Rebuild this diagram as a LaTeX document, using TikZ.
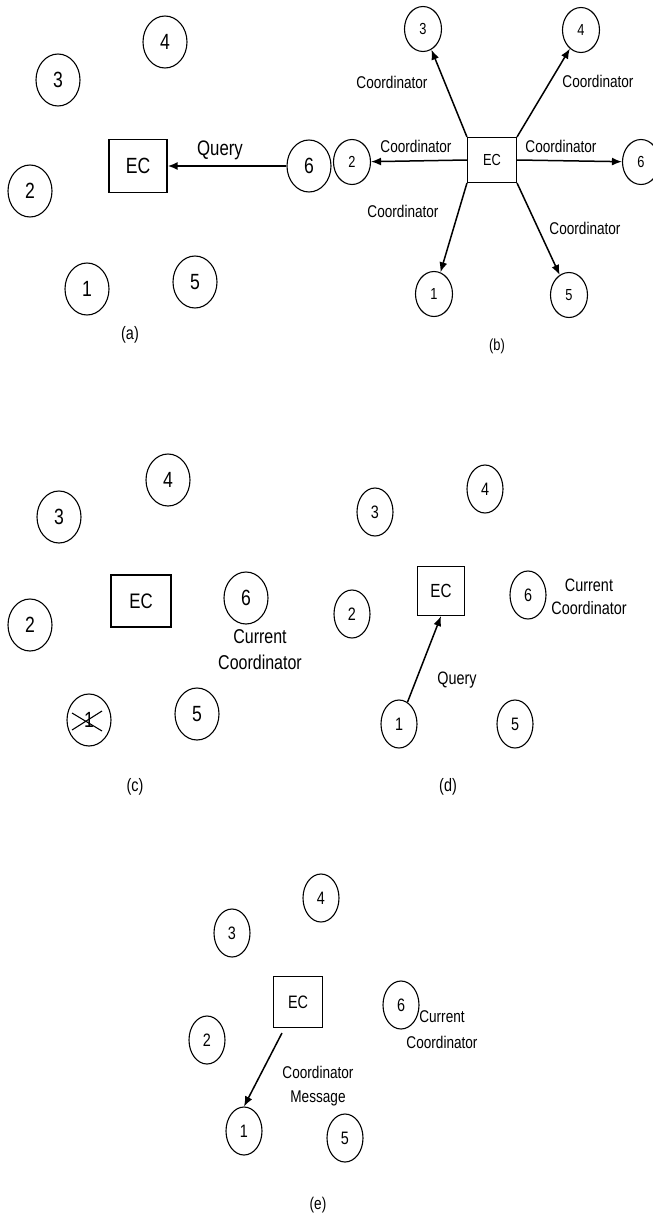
\documentclass[tikz,border=0pt]{standalone}
\usepackage{fontspec}
\setmainfont{Liberation Sans}[FakeStretch=0.8]
\usetikzlibrary{
    shapes.geometric,
    arrows.meta,
    calc,
    positioning
}

\tikzset{
    site/.style={ellipse, draw, line width=1.1pt, inner sep=0pt,
        minimum width=44pt, minimum height=52pt, font=\fontsize{22}{24}\selectfont},
    smallsite/.style={site, minimum width=36pt, minimum height=48pt,
        font=\fontsize{18}{20}\selectfont},
    ecbox/.style={rectangle, draw, line width=1.1pt, inner sep=0pt},
    msg/.style={->, line width=1.5pt},
    lbl/.style={inner sep=0pt, align=center}
}

\begin{document}
\begin{tikzpicture}[x=1pt, y=-1pt, >={Latex[length=10pt, width=8pt]}]
    \useasboundingbox (0, 0) rectangle (653, 1218);
    % (a)
    \begin{scope}[shift={(0, 0)}]
        \node[site] (a4) at (165, 42) {4};
        \node[site] (a3) at (58, 80) {3};
        \node[site] (a2) at (30, 191) {2};
        \node[ecbox, minimum width=58pt, minimum height=53pt, font=\fontsize{22}{24}\selectfont] (aec) at (138, 166) {EC};
        \node[site] (a6) at (309, 166) {6};
        \node[site] (a1) at (87, 289) {1};
        \node[site] (a5) at (195, 282) {5};
        \node[lbl, font=\fontsize{21}{24}\selectfont] (aq) at (220, 150) {Query};
        \node[lbl, font=\fontsize{18}{20}\selectfont] (acap) at (130, 335) {(a)};
        \draw[msg, line width=2pt] (a6) -- (aec);
    \end{scope}
    % (b)
    \begin{scope}[shift={(320, 0)}, every node/.append style={font=\fontsize{17}{19}\selectfont}]
        \node[smallsite, minimum width=37pt, minimum height=45pt, font=\fontsize{16}{18}\selectfont] (b3) at (103, 29) {3};
        \node[smallsite, minimum width=37pt, minimum height=45pt, font=\fontsize{16}{18}\selectfont] (b4) at (261, 30) {4};
        \node[smallsite, minimum width=37pt, minimum height=45pt, font=\fontsize{16}{18}\selectfont] (b2) at (32, 162) {2};
        \node[ecbox, minimum width=49pt, minimum height=45pt, font=\fontsize{16}{18}\selectfont] (bec) at (172, 160) {EC};
        \node[smallsite, minimum width=37pt, minimum height=45pt, font=\fontsize{16}{18}\selectfont] (b6) at (321, 162) {6};
        \node[smallsite, minimum width=37pt, minimum height=45pt, font=\fontsize{16}{18}\selectfont] (b1) at (114, 294) {1};
        \node[smallsite, minimum width=37pt, minimum height=45pt, font=\fontsize{16}{18}\selectfont] (b5) at (249, 295) {5};
        \node[lbl] (bl3) at (72, 82) {Coordinator};
        \node[lbl] (bl4) at (278, 81) {Coordinator};
        \node[lbl] (bl2) at (96, 146) {Coordinator};
        \node[lbl] (bl6) at (241, 146) {Coordinator};
        \node[lbl] (bl1) at (83, 211) {Coordinator};
        \node[lbl] (bl5) at (265, 228) {Coordinator};
        \node[lbl, font=\fontsize{16}{18}\selectfont] (bcap) at (177, 346) {(b)};
        \path
        (bec.north west) edge[msg] (b3)
        (bec.north east) edge[msg] (b4)
        (bec.west) edge[msg] (b2)
        (bec.east) edge[msg] (b6)
        (bec.south west) edge[msg] (b1)
        (bec.south east) edge[msg] (b5);
    \end{scope}
    % (c)
    \begin{scope}[shift={(0, 440)}]
        \node[site] (c4) at (168, 40) {4};
        \node[site] (c3) at (59, 77) {3};
        \node[ecbox, minimum width=60pt, minimum height=52pt, font=\fontsize{21}{24}\selectfont] (cec) at (141, 161) {EC};
        \node[site] (c6) at (246, 158) {6};
        \node[site] (c2) at (30, 185) {2};
        \node[site] (c1) at (89, 280) {1};
        \node[site] (c5) at (197, 274) {5};
        \node[lbl, font=\fontsize{20}{26}\selectfont] (ccur) at (260, 210) {Current\\Coordinator};
        \node[lbl, font=\fontsize{18}{20}\selectfont] (ccap) at (135, 347) {(c)};
        \draw[line width=1.1pt] ($(c1)+(-17, -7)$) -- ($(c1)+(13, 11)$)
        ($(c1)+(-17, 10)$) -- ($(c1)+(13, -9)$);
    \end{scope}
    % (d)
    \begin{scope}[shift={(330, 440)}]
        \node[smallsite] (d4) at (155, 49) {4};
        \node[smallsite] (d3) at (45, 72) {3};
        \node[ecbox, minimum width=47pt, minimum height=49pt, font=\fontsize{19}{21}\selectfont] (dec) at (111, 151) {EC};
        \node[smallsite] (d6) at (198, 155) {6};
        \node[smallsite] (d2) at (22, 174) {2};
        \node[smallsite] (d1) at (69, 284) {1};
        \node[smallsite] (d5) at (185, 284) {5};
        \node[lbl, font=\fontsize{18}{23}\selectfont] (dcur) at (259, 157) {Current\\Coordinator};
        \node[lbl, font=\fontsize{18}{20}\selectfont] (dq) at (127, 240) {Query};
        \node[lbl, font=\fontsize{18}{20}\selectfont] (dcap) at (118, 347) {(d)};
        \draw[msg] (d1) -- (dec.south);
    \end{scope}
    % (e)
    \begin{scope}[shift={(170, 840)}]
        \node[smallsite] (e4) at (151, 58) {4};
        \node[smallsite] (e3) at (62, 93) {3};
        \node[ecbox, minimum width=49pt, minimum height=51pt, font=\fontsize{18}{20}\selectfont] (eec) at (128, 162) {EC};
        \node[smallsite] (e6) at (231, 165) {6};
        \node[smallsite] (e2) at (37, 200) {2};
        \node[smallsite] (e1) at (74, 291) {1};
        \node[smallsite] (e5) at (175, 298) {5};
        \node[lbl, font=\fontsize{17}{26}\selectfont] (ecur) at (272, 190) {Current\\Coordinator};
        \node[lbl, font=\fontsize{17}{24}\selectfont] (emsg) at (148, 246) {Coordinator\\Message};
        \node[lbl, font=\fontsize{17}{19}\selectfont] (ecap) at (148, 365) {(e)};
        \draw[msg] ([xshift=9pt, yshift=-5pt]eec.south west) -- (e1.north);
    \end{scope}
\end{tikzpicture}
\end{document}
